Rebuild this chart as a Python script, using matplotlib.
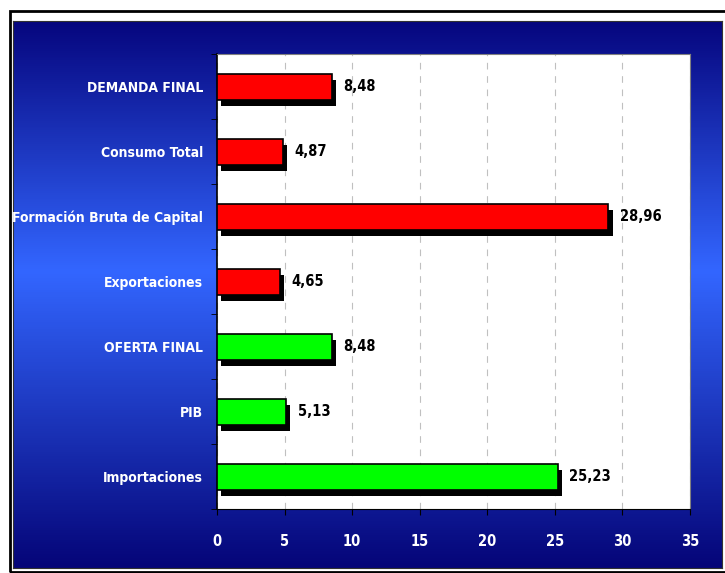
import numpy as np
import matplotlib
matplotlib.use("Agg")
import matplotlib.pyplot as plt
import matplotlib.patheffects as pe
from matplotlib.colors import LinearSegmentedColormap
from matplotlib.patches import Rectangle

categories = ['DEMANDA FINAL', 'Consumo Total', 'Formación Bruta de Capital',
              'Exportaciones', 'OFERTA FINAL', 'PIB', 'Importaciones']
values = [8.48, 4.87, 28.96, 4.65, 8.48, 5.13, 25.23]
colors = ['#ff0000'] * 4 + ['#00ff00'] * 3
value_labels = ['8,48', '4,87', '28,96', '4,65', '8,48', '5,13', '25,23']
xticks = [0, 5, 10, 15, 20, 25, 30, 35]

txt = dict(family='DejaVu Sans', fontstretch='condensed', fontweight='bold')

W, H = 725, 573
fig = plt.figure(figsize=[W / 100, H / 100], dpi=100)
fig.patch.set_facecolor('white')

# background panel with vertical gradient
bg = fig.add_axes([13 / W, 1 - 568 / H, (722 - 13) / W, (568 - 21) / H])
cmap = LinearSegmentedColormap.from_list('bg', ['#06067e', '#3366ff', '#050578'])
grad = np.concatenate([np.linspace(0, 0.5, 250), np.linspace(0.5, 1, 297)])
bg.imshow(grad[:, None], aspect='auto', cmap=cmap, extent=[0, 1, 0, 1], vmin=0, vmax=1)
bg.set_xticks([])
bg.set_yticks([])
for s in bg.spines.values():
    s.set_color('#333333')
    s.set_linewidth(0.8)

# outer black frame
fig.patches.append(Rectangle((10 / W, 1 - 572 / H), (740 - 10) / W, (572 - 11) / H,
                             transform=fig.transFigure, fill=False,
                             edgecolor='black', linewidth=2))

ax = fig.add_axes([217 / W, 1 - 509 / H, (690 - 217) / W, (509 - 54) / H])
ax.set_facecolor('white')
y = np.arange(len(categories))
bars = ax.barh(y, values, height=0.40, color=colors, edgecolor='black', linewidth=1.2, zorder=3)
for b in bars:
    b.set_path_effects([pe.SimplePatchShadow(offset=(3, -4.5), shadow_rgbFace='black', alpha=1),
                        pe.Normal()])
for yi, v, lab in zip(y, values, value_labels):
    ax.text(v + 0.85, yi, lab, va='center', ha='left', fontsize=10.5, color='black', zorder=4, **txt)

ax.set_xlim(0, 35)
ax.set_ylim(len(categories) - 0.5, -0.5)
ax.set_xticks(xticks)
ax.set_xticklabels([str(t) for t in xticks], fontsize=10.5, color='white', **txt)
ax.set_yticks(y)
ax.set_yticklabels(categories, fontsize=10, color='white', **txt)
ax.set_yticks(np.arange(len(categories) + 1) - 0.5, minor=True)
ax.tick_params(axis='y', which='major', length=0, pad=10)
ax.tick_params(axis='y', which='minor', length=4, color='black')
ax.tick_params(axis='x', length=4, color='black', pad=14)
ax.grid(True, axis='x', linestyle=(0, (6, 6)), color='#c0c0c0', linewidth=0.8, zorder=0)
for s in ['top', 'right']:
    ax.spines[s].set_color('#808080')
ax.spines['left'].set_color('black')
ax.spines['bottom'].set_color('black')
ax.spines['left'].set_linewidth(1.2)

fig.savefig('out.png', dpi=100)
